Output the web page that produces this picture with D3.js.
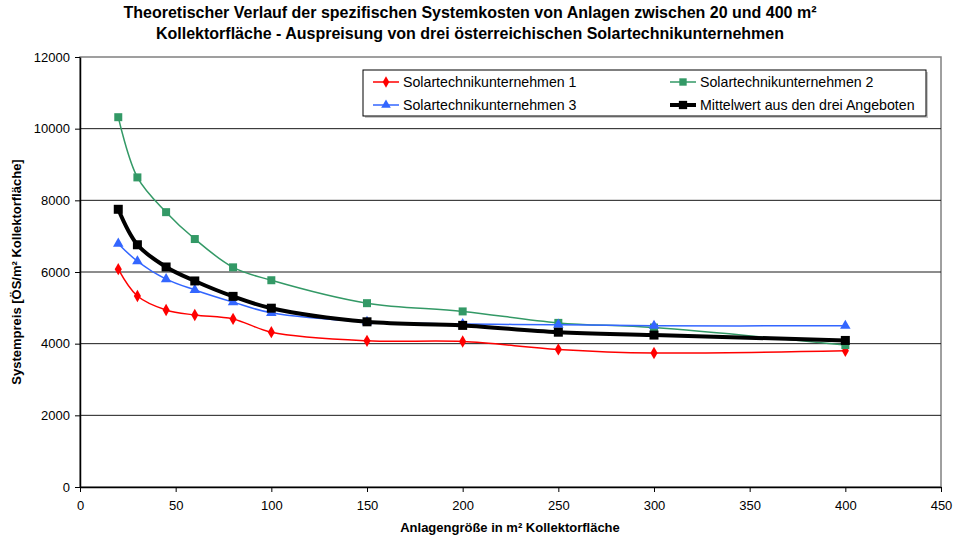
<!DOCTYPE html>
<html>
<head>
<meta charset="utf-8">
<script src="https://cdn.jsdelivr.net/npm/d3@7"></script>
<style>
  html, body { margin: 0; padding: 0; background: #fff; }
  svg { display: block; font-family: Arial, "Liberation Sans", sans-serif; }
</style>
</head>
<body>
<svg id="chart" width="954" height="539"></svg>
<script>
// Anlagengrößen (m² Kollektorfläche)
const flaechen = [20, 30, 45, 60, 80, 100, 150, 200, 250, 300, 400];

// Spezifische Systemkosten je Anbieter (ÖS/m²)
const unternehmen1 = [6080, 5330, 4940, 4800, 4690, 4320, 4080, 4060, 3840, 3740, 3800];
const unternehmen2 = [10320, 8640, 7670, 6920, 6130, 5770, 5130, 4900, 4580, 4450, 3960];
const unternehmen3 = [6790, 6300, 5800, 5500, 5160, 4860, 4610, 4550, 4530, 4500, 4500];
const mittelwert   = [7750, 6760, 6140, 5750, 5320, 4990, 4610, 4510, 4320, 4240, 4090];

const xTicks = [0, 50, 100, 150, 200, 250, 300, 350, 400, 450];
const yTicks = [0, 2000, 4000, 6000, 8000, 10000, 12000];

const titelZeilen = [
  "Theoretischer Verlauf der spezifischen Systemkosten von Anlagen zwischen 20 und 400 m²",
  "Kollektorfläche - Auspreisung von drei österreichischen Solartechnikunternehmen"
];

const reihen = [
  { name: "Solartechnikunternehmen 1", werte: unternehmen1, farbe: "#ff0000", breite: 1.5, marker: "diamond", groesse: 44 },
  { name: "Solartechnikunternehmen 2", werte: unternehmen2, farbe: "#339966", breite: 1.5, marker: "square", groesse: 64 },
  { name: "Solartechnikunternehmen 3", werte: unternehmen3, farbe: "#3366ff", breite: 1.5, marker: "triangle", groesse: 48 },
  { name: "Mittelwert aus den drei Angeboten", werte: mittelwert, farbe: "#000000", breite: 4, marker: "square", groesse: 81 }
];

const svg = d3.select("#chart");
const plot = { left: 80, right: 941, top: 57, bottom: 487 };

const x = d3.scaleLinear().domain([0, 450]).range([plot.left, plot.right]);
const y = d3.scaleLinear().domain([0, 12000]).range([plot.bottom, plot.top]);

// Titel
svg.append("g").selectAll("text").data(titelZeilen).join("text")
  .attr("x", 470).attr("y", (d, i) => 18 + i * 21)
  .attr("text-anchor", "middle")
  .attr("font-size", 16).attr("font-weight", "bold")
  .text(d => d);

// Rahmen der Zeichenfläche
svg.append("rect")
  .attr("x", plot.left).attr("y", plot.top)
  .attr("width", plot.right - plot.left).attr("height", plot.bottom - plot.top)
  .attr("fill", "none").attr("stroke", "#808080").attr("stroke-width", 1.5);

// Gitternetzlinien
svg.append("g").selectAll("line").data(yTicks.filter(v => v > 0 && v < 12000)).join("line")
  .attr("x1", plot.left).attr("x2", plot.right)
  .attr("y1", d => y(d)).attr("y2", d => y(d))
  .attr("stroke", "#1a1a1a").attr("stroke-width", 1);

// Achsen
const xAxis = svg.append("g")
  .attr("transform", `translate(0,${plot.bottom})`)
  .call(d3.axisBottom(x).tickValues(xTicks).tickFormat(d3.format("d"))
    .tickSize(5).tickPadding(9).tickSizeOuter(0));
const yAxis = svg.append("g")
  .attr("transform", `translate(${plot.left},0)`)
  .call(d3.axisLeft(y).tickValues(yTicks).tickFormat(d3.format("d"))
    .tickSize(5).tickPadding(5).tickSizeOuter(0));

[xAxis, yAxis].forEach(a => {
  a.select(".domain").attr("stroke", "#000").attr("stroke-width", 1.5);
  a.selectAll(".tick line").attr("stroke", "#000");
  a.selectAll(".tick text").attr("font-size", 13).attr("fill", "#000")
    .attr("font-family", "Arial, 'Liberation Sans', sans-serif");
});

// Achsentitel
svg.append("text")
  .attr("x", 510).attr("y", 532)
  .attr("text-anchor", "middle").attr("font-size", 13).attr("font-weight", "bold")
  .text("Anlagengröße in m² Kollektorfläche");
svg.append("text")
  .attr("transform", `translate(21,272) rotate(-90)`)
  .attr("text-anchor", "middle").attr("font-size", 13).attr("font-weight", "bold")
  .text("Systempreis [ÖS/m² Kollektorfläche]");

const symbolTyp = { diamond: d3.symbolDiamond, square: d3.symbolSquare, triangle: d3.symbolTriangle };

const linie = d3.line()
  .x(d => x(d[0])).y(d => y(d[1]))
  .curve(d3.curveCatmullRom.alpha(0.5));

// Reihen: zuerst die Linie, dann die Marker
const reihenGruppe = svg.append("g");
reihen.forEach(r => {
  const punkte = flaechen.map((f, i) => [f, r.werte[i]]);
  const g = reihenGruppe.append("g");
  g.append("path")
    .attr("d", linie(punkte))
    .attr("fill", "none").attr("stroke", r.farbe).attr("stroke-width", r.breite)
    .attr("stroke-linejoin", "round");
  g.selectAll("path.m").data(punkte).join("path")
    .attr("class", "m")
    .attr("transform", d => `translate(${x(d[0])},${y(d[1])})`)
    .attr("d", d3.symbol().type(symbolTyp[r.marker]).size(r.groesse))
    .attr("fill", r.farbe);
});

// Legende
const leg = { x: 363, y: 70, w: 563, h: 46 };
svg.append("rect")
  .attr("x", leg.x + 2).attr("y", leg.y + 2).attr("width", leg.w).attr("height", leg.h)
  .attr("fill", "#c8c8c8");
svg.append("rect")
  .attr("x", leg.x).attr("y", leg.y).attr("width", leg.w).attr("height", leg.h)
  .attr("fill", "#fff").attr("stroke", "#000").attr("stroke-width", 1);

const legPos = [
  { lx: 373, ly: 82 }, { lx: 670, ly: 82 },
  { lx: 373, ly: 105 }, { lx: 670, ly: 105 }
];
reihen.forEach((r, i) => {
  const p = legPos[i];
  const g = svg.append("g");
  g.append("line")
    .attr("x1", p.lx).attr("x2", p.lx + 26).attr("y1", p.ly).attr("y2", p.ly)
    .attr("stroke", r.farbe).attr("stroke-width", r.breite);
  g.append("path")
    .attr("transform", `translate(${p.lx + 13},${p.ly})`)
    .attr("d", d3.symbol().type(symbolTyp[r.marker]).size(r.groesse * 0.85))
    .attr("fill", r.farbe);
  g.append("text")
    .attr("x", p.lx + 30).attr("y", p.ly + 5)
    .attr("font-size", 14.2)
    .text(r.name);
});
</script>
</body>
</html>
